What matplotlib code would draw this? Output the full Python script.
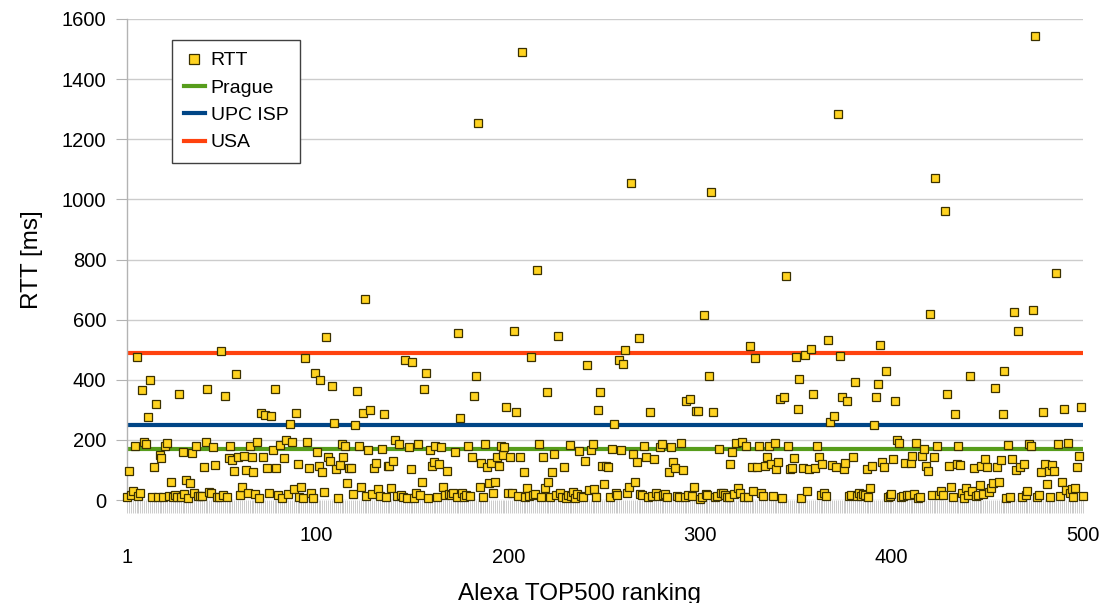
import numpy as np
import matplotlib
matplotlib.use('Agg')
import matplotlib.pyplot as plt
from matplotlib.lines import Line2D

plt.rcParams['font.family'] = ['Liberation Sans', 'DejaVu Sans']

# RTT per site, Alexa rank 1..500 (ms)
rtt = [
    11, 97, 18, 31, 178, 475, 14, 24, 365, 194, 187, 277, 399, 9, 110, 320, 9, 150, 141, 9, 178, 191, 12, 60, 10,
    15, 10, 351, 10, 161, 20, 67, 8, 55, 155, 24, 178, 13, 13, 12, 111, 194, 369, 28, 22, 175, 117, 10, 10, 494,
    16, 347, 10, 139, 178, 133, 97, 420, 144, 15, 44, 147, 100, 24, 178, 142, 92, 19, 194, 8, 291, 144, 283, 105, 24,
    281, 167, 369, 105, 17, 183, 8, 139, 200, 19, 253, 194, 36, 291, 119, 11, 42, 8, 472, 194, 108, 22, 8, 422, 161,
    114, 400, 94, 28, 542, 144, 130, 380, 255, 102, 8, 117, 187, 144, 178, 58, 108, 108, 19, 250, 361, 178, 42, 289, 670,
    14, 167, 298, 21, 105, 124, 36, 12, 170, 287, 9, 114, 113, 41, 131, 200, 13, 187, 17, 9, 467, 8, 176, 104, 459,
    8, 22, 186, 17, 61, 370, 424, 8, 167, 114, 128, 178, 9, 120, 176, 44, 17, 97, 19, 15, 24, 160, 11, 555, 272,
    24, 10, 17, 178, 14, 142, 347, 411, 1255, 44, 124, 9, 187, 111, 56, 124, 24, 59, 144, 114, 178, 150, 175, 311, 22,
    144, 22, 563, 292, 14, 142, 1490, 94, 9, 39, 12, 476, 15, 19, 765, 187, 11, 144, 39, 359, 59, 11, 92, 152, 18,
    544, 24, 10, 111, 8, 16, 183, 12, 28, 8, 20, 164, 14, 10, 130, 448, 33, 167, 187, 36, 9, 298, 359, 114, 52,
    114, 111, 9, 170, 252, 22, 17, 467, 167, 453, 498, 22, 42, 1055, 152, 61, 126, 539, 19, 17, 181, 144, 11, 292, 12,
    136, 24, 13, 176, 186, 15, 20, 9, 94, 176, 128, 106, 14, 10, 191, 100, 9, 328, 18, 335, 12, 42, 297, 297, 4,
    11, 614, 20, 17, 413, 1025, 294, 11, 14, 170, 22, 24, 15, 11, 10, 120, 161, 20, 191, 41, 24, 194, 9, 178, 9,
    513, 111, 31, 472, 109, 178, 22, 12, 114, 144, 178, 119, 13, 189, 102, 128, 336, 8, 344, 745, 181, 102, 108, 139, 476,
    303, 403, 8, 108, 483, 30, 102, 502, 352, 105, 180, 144, 16, 119, 22, 14, 533, 261, 117, 280, 109, 1285, 480, 342, 102,
    124, 328, 13, 18, 142, 394, 12, 24, 13, 20, 15, 102, 11, 41, 114, 250, 344, 387, 517, 128, 111, 428, 9, 14, 19,
    137, 328, 200, 191, 9, 12, 124, 17, 16, 122, 147, 19, 189, 8, 10, 147, 170, 114, 97, 620, 17, 144, 1070, 178, 15,
    31, 17, 960, 352, 114, 42, 9, 287, 119, 180, 117, 22, 8, 41, 15, 414, 31, 105, 12, 17, 50, 114, 20, 137, 111,
    28, 41, 56, 372, 111, 59, 133, 287, 430, 8, 183, 11, 137, 624, 100, 563, 111, 9, 120, 17, 31, 186, 178, 633, 1545,
    11, 17, 94, 294, 120, 52, 97, 11, 117, 98, 755, 187, 14, 60, 302, 33, 191, 22, 36, 11, 41, 109, 147, 308, 14,
]

# reference RTT levels (ms)
ref_names = ['Prague', 'UPC ISP', 'USA']
ref_values = [170, 250, 490]
ref_colors = ['#579d1c', '#004586', '#ff420e']

x_ticks = [1, 100, 200, 300, 400, 500]
y_ticks = [0, 200, 400, 600, 800, 1000, 1200, 1400, 1600]

ranks = np.arange(1, len(rtt) + 1)

fig = plt.figure(figsize=(11.15, 6.03), dpi=100)
ax = fig.add_axes([127 / 1115, 1 - 500 / 603, (1083 - 127) / 1115, (500 - 19) / 603])

grid_col = '#cccccc'
axis_col = '#b3b3b3'

# reference lines (under the markers)
for name, val, col in zip(ref_names, ref_values, ref_colors):
    ax.axhline(val, color=col, linewidth=3, zorder=2)

ax.plot(ranks, rtt, linestyle='none', marker='s', markersize=5.6,
        markerfacecolor='#ffd320', markeredgecolor='#3a3000', markeredgewidth=0.9,
        zorder=3, clip_on=False)

ax.set_xlim(1, 500)
ax.set_ylim(0, 1600)

# y axis
ax.set_yticks(y_ticks)
ax.set_yticklabels([str(v) for v in y_ticks], fontsize=14.5)
ax.yaxis.grid(True, color=grid_col, linewidth=1)
ax.set_axisbelow(True)
ax.tick_params(axis='y', direction='out', length=8, width=0.8, color=axis_col, pad=7)

# x axis: one tick per category, labels staggered on two rows
ax.set_xticks(ranks, minor=True)
ax.set_xticks(x_ticks)
ax.set_xticklabels(['\n' + str(v) if i % 2 == 0 else str(v) for i, v in enumerate(x_ticks)],
                   fontsize=14.5, va='top', linespacing=1.15)
ax.tick_params(axis='x', which='both', direction='out', length=9, width=0.6, color='#c4c4c4')
ax.tick_params(axis='x', which='major', pad=10)

for side in ['top', 'right', 'bottom']:
    ax.spines[side].set_visible(False)
ax.spines['left'].set_color(axis_col)
ax.spines['left'].set_linewidth(1)

ax.set_ylabel('RTT [ms]', fontsize=17.5)
ax.yaxis.set_label_coords(-0.088, 0.5)
ax.set_xlabel('Alexa TOP500 ranking', fontsize=17.5)
ax.xaxis.set_label_coords(0.473, -0.172)

# legend
handles = [Line2D([], [], linestyle='none', marker='s', markersize=7.5,
                  markerfacecolor='#ffd320', markeredgecolor='#3a3000', markeredgewidth=0.9)]
handles += [Line2D([], [], color=c, linewidth=3) for c in ref_colors]
leg = ax.legend(handles, ['RTT'] + ref_names, loc='upper left', bbox_to_anchor=(0.047, 0.956),
                borderaxespad=0, fontsize=14, frameon=True, fancybox=False,
                edgecolor='#404040', framealpha=1, handlelength=1.1, handletextpad=0.3,
                labelspacing=0.5, borderpad=0.6)
leg.get_frame().set_linewidth(1)

fig.savefig('out.png', dpi=100)
